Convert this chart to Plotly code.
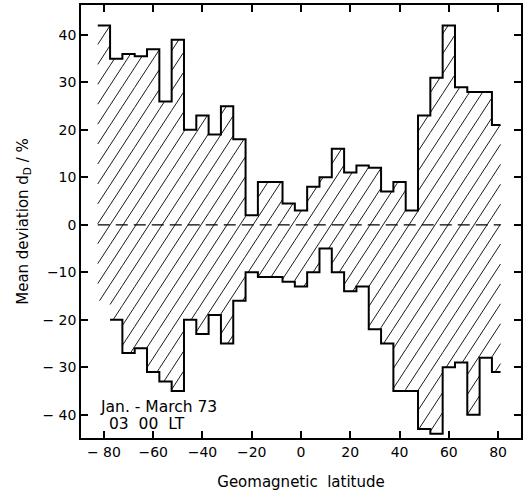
import math
import plotly.graph_objects as go

# Geomagnetic latitude bin edges (5 degree bins, last bin truncated)
lat_edges = [-82.5, -77.5, -72.5, -67.5, -62.5, -57.5, -52.5, -47.5, -42.5, -37.5,
             -32.5, -27.5, -22.5, -17.5, -12.5, -7.5, -2.5, 2.5, 7.5, 12.5,
             17.5, 22.5, 27.5, 32.5, 37.5, 42.5, 47.5, 52.5, 57.5, 62.5,
             67.5, 72.5, 77.5, 81.0]

# Upper and lower envelope of the mean deviation d_D (%) per bin
upper_dev = [42, 35, 36, 35.5, 37, 26, 39, 20, 23, 19, 25, 18, 2, 9, 9, 4.5, 3,
             8, 10, 16, 11, 12.5, 12, 7, 9, 3, 23, 31, 42, 29, 28, 28, 21]
lower_dev = [-16, -20, -27, -26, -31, -33, -35, -20, -23, -19, -25, -16, -10, -11, -11, -12, -13,
             -10, -5, -10, -14, -13, -22, -25, -35, -35, -43, -44, -30, -29, -40, -28, -31]

x_ticks = [-80, -60, -40, -20, 0, 20, 40, 60, 80]
x_ticktext = ["\u2212 80", "\u221260", "\u221240", "\u221220", "0", "20", "40", "60", "80"]
y_ticks = [40, 30, 20, 10, 0, -10, -20, -30, -40]
y_ticktext = ["40", "30", "20", "10", "0", "\u221210", "\u2212 20", "\u2212 30", "\u2212 40"]

W, H = 526, 494
ML, MR, MT, MB = 81, 5, 3, 56
x_range = [-89.3, 89.3]
y_range = [-44.9, 46.3]

FONT = "DejaVu Sans"

fig = go.Figure()

# Diagonal hatching clipped to each bin's band between the two envelopes
sx = (W - ML - MR) / (x_range[1] - x_range[0])
sy = (H - MT - MB) / (y_range[1] - y_range[0])
slope = math.tan(math.radians(57)) * sx / sy   # data-unit slope of hatch lines
step = 13.0 / sx                                  # horizontal spacing of hatch lines
hx, hy = [], []
for i in range(len(upper_dev)):
    a, b = lat_edges[i], lat_edges[i + 1]
    lo, hi = lower_dev[i], upper_dev[i]
    for k in range(-60, 80):
        c = -77.5 + k * step
        x1 = max(a, c + lo / slope)
        x2 = min(b, c + hi / slope)
        if x1 < x2:
            hx += [x1, x2, None]
            hy += [slope * (x1 - c), slope * (x2 - c), None]
fig.add_trace(go.Scatter(x=hx, y=hy, mode="lines",
                         line=dict(color="#1a1a1a", width=1), hoverinfo="skip",
                         showlegend=False))

# Step outlines
fig.add_trace(go.Scatter(x=lat_edges, y=upper_dev + [upper_dev[-1]], mode="lines",
                         line=dict(color="black", width=2, shape="hv"),
                         showlegend=False))
fig.add_trace(go.Scatter(x=lat_edges[1:], y=lower_dev[1:] + [lower_dev[-1]], mode="lines",
                         line=dict(color="black", width=2, shape="hv"),
                         showlegend=False))

# Dashed zero line
fig.add_shape(type="line", x0=lat_edges[0], x1=lat_edges[-1], y0=0, y1=0,
              xref="x", yref="y", line=dict(color="black", width=1.3, dash="12px,6px"))

fig.add_annotation(x=-82.5, y=-38.3, xref="x", yref="y", text="Jan. - March 73",
                   showarrow=False, xanchor="left", yanchor="middle",
                   font=dict(family=FONT, size=15.5, color="black"))
fig.add_annotation(x=-78.8, y=-42.0, xref="x", yref="y", text="03  00  LT",
                   showarrow=False, xanchor="left", yanchor="middle",
                   font=dict(family=FONT, size=15.5, color="black"))

axis_common = dict(showline=True, linecolor="black", linewidth=1.5, mirror="ticks",
                   ticks="inside", ticklen=7, tickwidth=1.5, tickcolor="black",
                   showgrid=False, zeroline=False,
                   tickfont=dict(family=FONT, size=14, color="black"))

fig.update_xaxes(range=x_range, tickvals=x_ticks, ticktext=x_ticktext,
                 title=dict(text="Geomagnetic  latitude", standoff=18,
                            font=dict(family=FONT, size=15, color="black")),
                 **axis_common)
fig.update_yaxes(range=y_range, tickvals=y_ticks, ticktext=y_ticktext,
                 title=dict(text="Mean deviation d<sub>D</sub> / %", standoff=10,
                            font=dict(family=FONT, size=15, color="black")),
                 **axis_common)

fig.update_layout(width=W, height=H, margin=dict(l=ML, r=MR, t=MT, b=MB),
                  plot_bgcolor="white", paper_bgcolor="white", showlegend=False)

fig.write_html("out.html")
